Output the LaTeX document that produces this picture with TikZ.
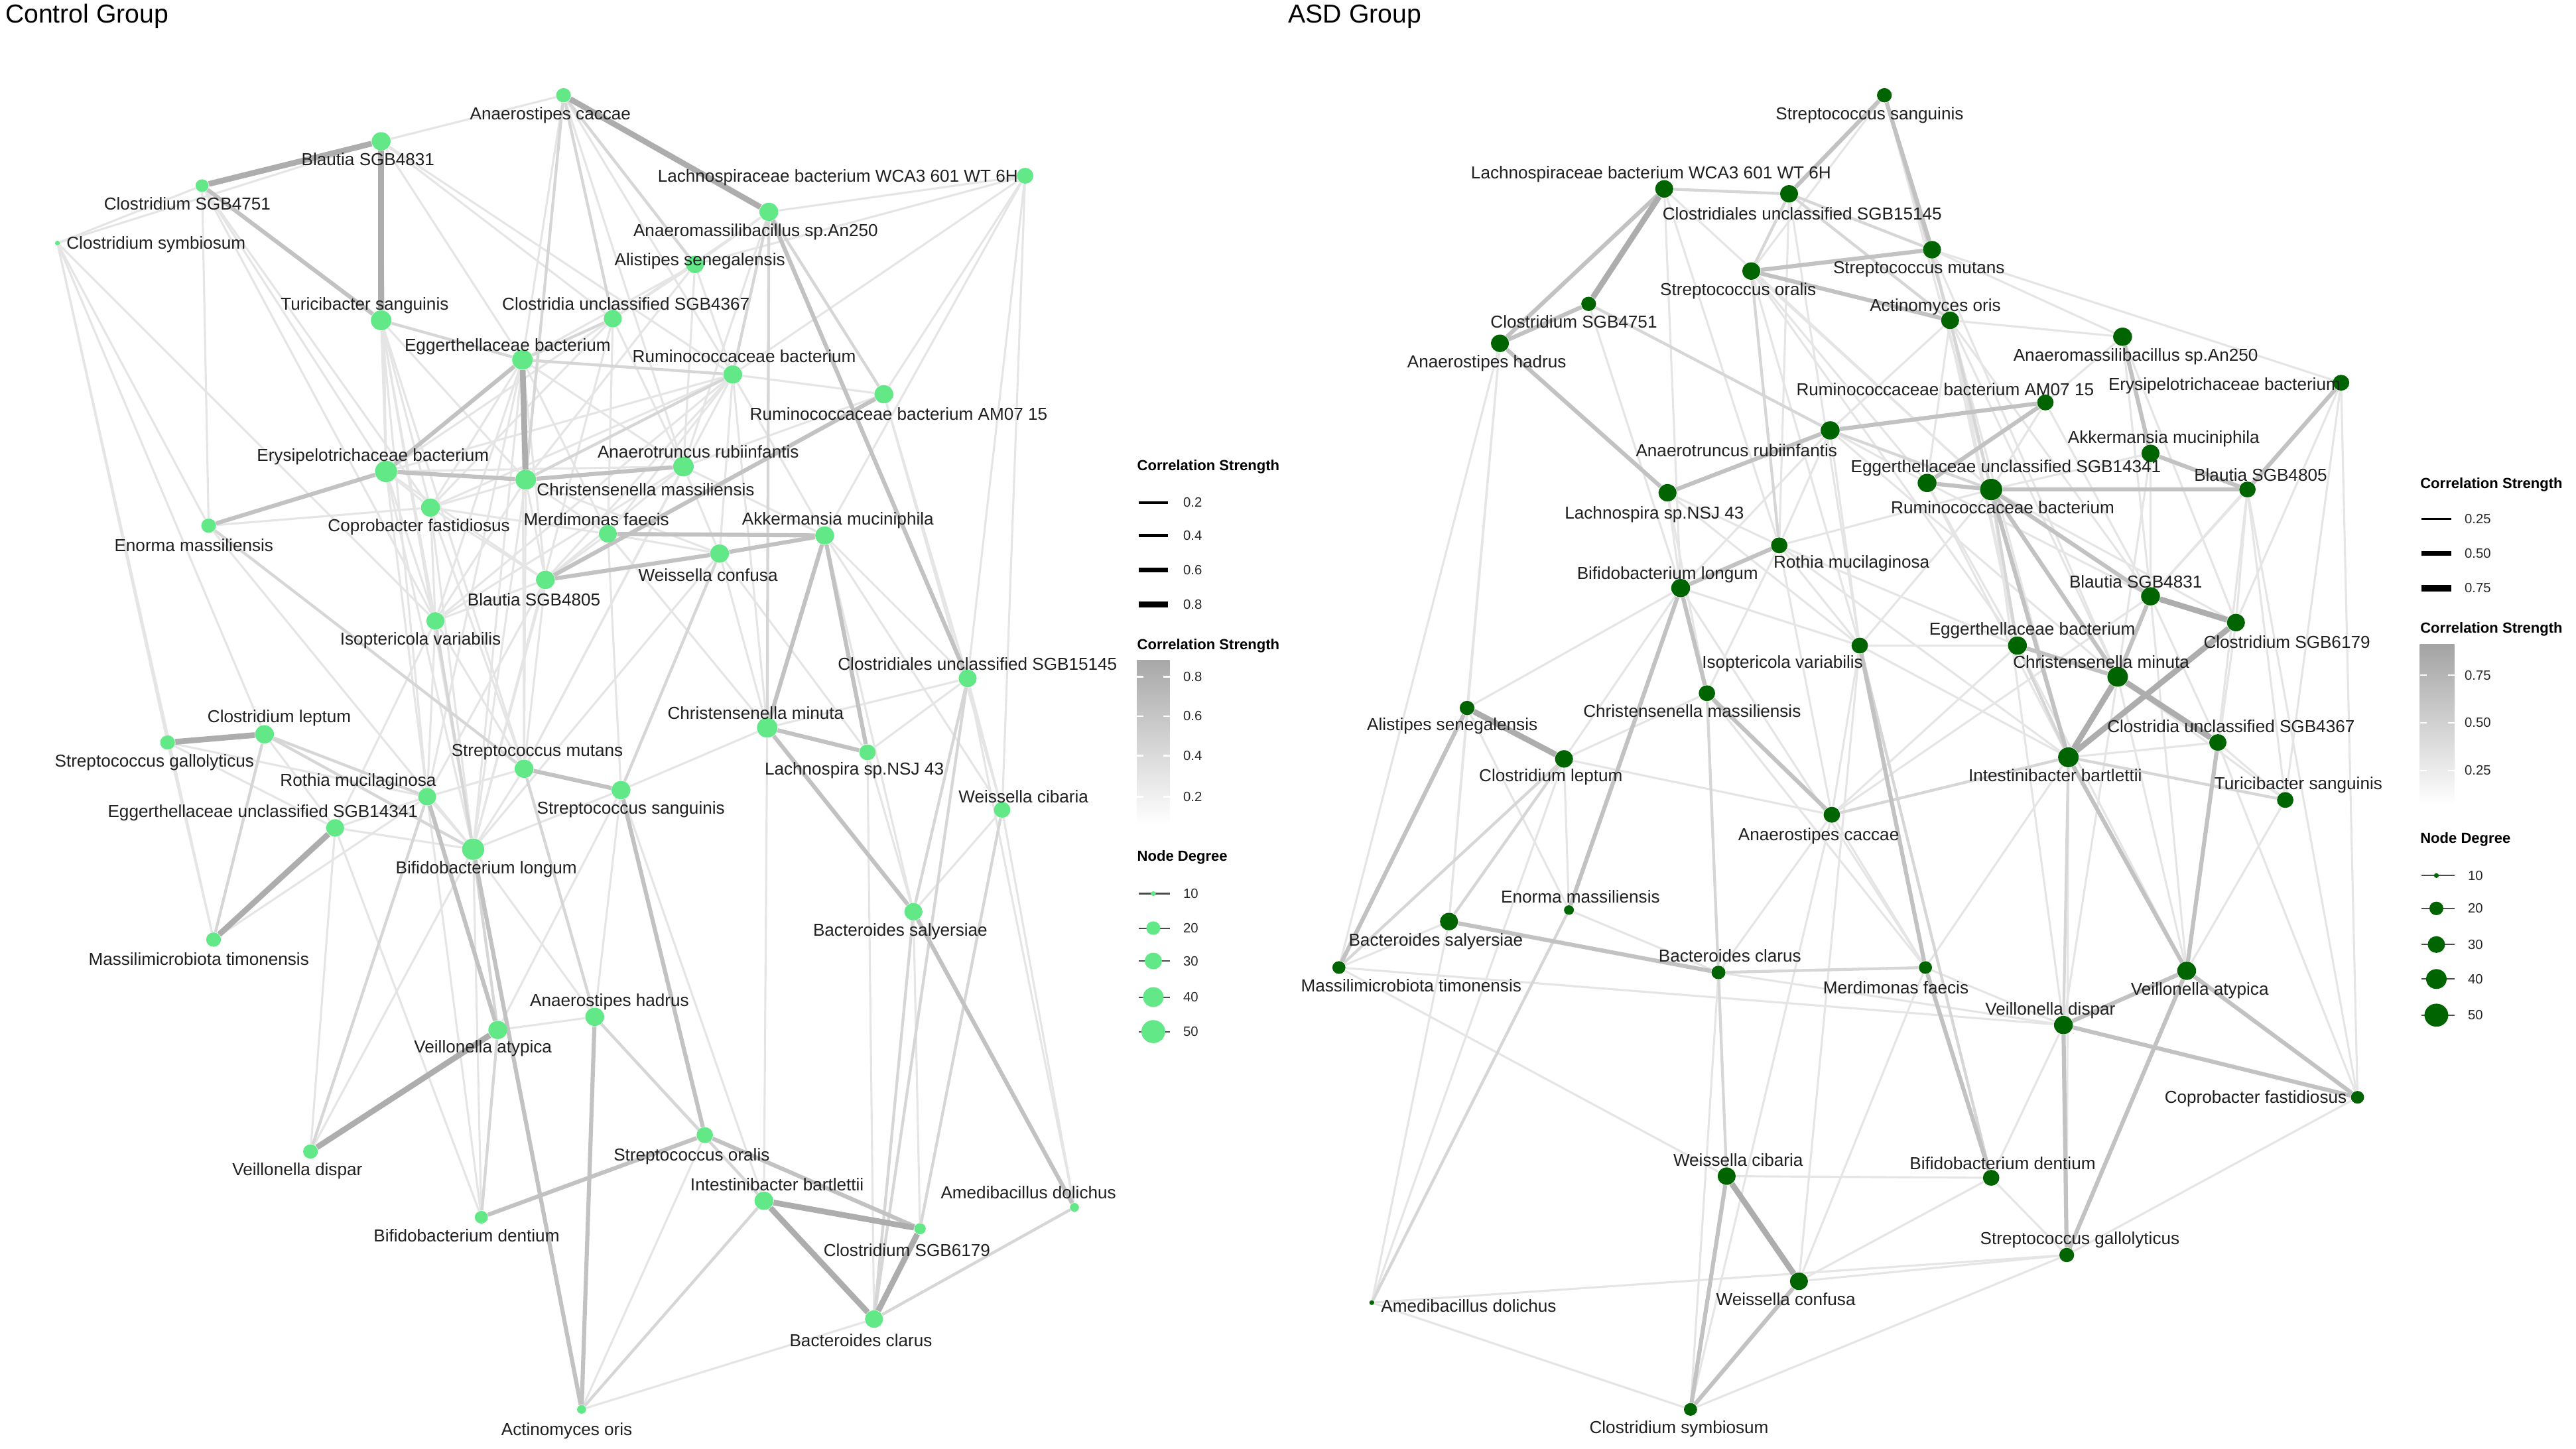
\documentclass[tikz,border=0pt]{standalone}
\usepackage{fontspec}
\setmainfont{Liberation Sans}
\usetikzlibrary{shapes.geometric,backgrounds}
\definecolor{cgreen}{RGB}{98,232,135}
\definecolor{dgreen}{RGB}{0,100,0}
\newcommand\mynode[6]{\node[#1=#4] (#2) at (#3) {};\node[lab] (#2L) at (#5) {#6};}
\begin{document}
\begin{tikzpicture}[x=0.3mm,y=-0.3mm,
 cn/.style={ellipse,fill=cgreen,inner sep=0pt,minimum width=#1*0.3mm,minimum height=#1*0.29mm},
 an/.style={ellipse,fill=dgreen,inner sep=0pt,minimum width=#1*0.3mm,minimum height=#1*0.29mm},
 lab/.style={font=\fontsize{9}{10}\selectfont,text=black!88,inner sep=0pt},
 ttl/.style={font=\fontsize{13.5}{15}\selectfont,anchor=west,inner sep=0pt},
 lgt/.style={font=\bfseries\fontsize{7.6}{9}\selectfont,anchor=west,inner sep=0pt},
 lgn/.style={font=\fontsize{7}{8}\selectfont,anchor=west,inner sep=0pt,text=black!85},
 e1/.style={draw=black!10,line width=0.38mm},
 e2/.style={draw=black!16,line width=0.52mm},
 e3/.style={draw=black!24,line width=0.75mm},
 e4/.style={draw=black!32,line width=1.05mm},
 kl/.style={draw=black!70,line width=0.25mm}]
\path[use as bounding box] (0,0) rectangle (1568,882);
\node[ttl] (t1) at (3,10) {Control Group};
\node[ttl] (t2) at (784,10) {ASD Group};
% ---------------- Control group nodes
\mynode{cn}{cAcac}{343,58}{9}{335,70}{Anaerostipes caccae}
\mynode{cn}{cB31}{232,86}{11.5}{224,97}{Blautia SGB4831}
\mynode{cn}{cC51}{123,113}{8}{114,124}{Clostridium SGB4751}
\mynode{cn}{cCsym}{35,148}{3}{95,149}{Clostridium symbiosum}
\mynode{cn}{cLach}{624,107}{10}{510,108}{Lachnospiraceae bacterium WCA3 601 WT 6H}
\mynode{cn}{cAmas}{468,129}{11.5}{460,141}{Anaeromassilibacillus sp.An250}
\mynode{cn}{cAli}{423,161}{11}{426,159}{Alistipes senegalensis}
\mynode{cn}{cC67}{373,194}{11}{381,185}{Clostridia unclassified SGB4367}
\mynode{cn}{cTur}{232,195}{12.5}{222,186}{Turicibacter sanguinis}
\mynode{cn}{cEgb}{318,219}{12.5}{309,211}{Eggerthellaceae bacterium}
\mynode{cn}{cRum}{446,228}{11.5}{453,217}{Ruminococcaceae bacterium}
\mynode{cn}{cRAM}{538,240}{11.5}{547,252}{Ruminococcaceae bacterium AM07 15}
\mynode{cn}{cEry}{235,287}{13.5}{227,278}{Erysipelotrichaceae bacterium}
\mynode{cn}{cCmas}{320,292}{12.5}{393,298}{Christensenella massiliensis}
\mynode{cn}{cAtr}{416,284}{12.5}{425,275}{Anaerotruncus rubiinfantis}
\mynode{cn}{cCop}{262,309}{11.5}{255,321}{Coprobacter fastidiosus}
\mynode{cn}{cMer}{370,325}{11}{363,316}{Merdimonas faecis}
\mynode{cn}{cAkk}{502,326}{11.5}{510,317}{Akkermansia muciniphila}
\mynode{cn}{cWcon}{438,337}{11.5}{431,350}{Weissella confusa}
\mynode{cn}{cEno}{127,320}{9}{118,332}{Enorma massiliensis}
\mynode{cn}{cB05}{332,353}{11.5}{325,365}{Blautia SGB4805}
\mynode{cn}{cIso}{265,378}{11}{256,390}{Isoptericola variabilis}
\mynode{cn}{cC145}{589,413}{11}{595,404}{Clostridiales unclassified SGB15145}
\mynode{cn}{cClep}{161,447}{11.5}{170,437}{Clostridium leptum}
\mynode{cn}{cSgal}{102,452}{9}{94,464}{Streptococcus gallolyticus}
\mynode{cn}{cCmin}{467,443}{12.5}{460,434}{Christensenella minuta}
\mynode{cn}{cLnsj}{528,458}{10}{520,469}{Lachnospira sp.NSJ 43}
\mynode{cn}{cSmut}{319,468}{11.5}{327,458}{Streptococcus mutans}
\mynode{cn}{cRoth}{260,485}{11}{218,476}{Rothia mucilaginosa}
\mynode{cn}{cSsan}{378,481}{11.5}{384,493}{Streptococcus sanguinis}
\mynode{cn}{cEgu}{204,504}{11}{160,495}{Eggerthellaceae unclassified SGB14341}
\mynode{cn}{cBlon}{288,517}{13.5}{296,529}{Bifidobacterium longum}
\mynode{cn}{cWcib}{610,493}{10}{623,485}{Weissella cibaria}
\mynode{cn}{cBsal}{556,555}{11}{548,567}{Bacteroides salyersiae}
\mynode{cn}{cMass}{130,572}{9}{121,584}{Massilimicrobiota timonensis}
\mynode{cn}{cAhad}{362,619}{11.5}{371,610}{Anaerostipes hadrus}
\mynode{cn}{cVaty}{303,627}{11.5}{294,638}{Veillonella atypica}
\mynode{cn}{cVdis}{189,701}{9}{181,713}{Veillonella dispar}
\mynode{cn}{cSora}{429,691}{10}{421,704}{Streptococcus oralis}
\mynode{cn}{cInt}{465,731}{11.5}{473,721}{Intestinibacter bartlettii}
\mynode{cn}{cAmed}{654,735}{5.5}{626,726}{Amedibacillus dolichus}
\mynode{cn}{cC6179}{560,748}{7}{552,761}{Clostridium SGB6179}
\mynode{cn}{cBden}{293,741}{8}{284,752}{Bifidobacterium dentium}
\mynode{cn}{cBcla}{532,803}{11}{524,816}{Bacteroides clarus}
\mynode{cn}{cAor}{354,858}{5.5}{345,871}{Actinomyces oris}
% ---------------- ASD group nodes
\mynode{an}{aSsan}{1147,58}{9}{1138,70}{Streptococcus sanguinis}
\mynode{an}{aLach}{1013,115}{11}{1005,106}{Lachnospiraceae bacterium WCA3 601 WT 6H}
\mynode{an}{aC145}{1089,118}{11}{1097,130}{Clostridiales unclassified SGB15145}
\mynode{an}{aSmut}{1176,152}{11}{1168,164}{Streptococcus mutans}
\mynode{an}{aSora}{1066,165}{11}{1058,177}{Streptococcus oralis}
\mynode{an}{aAor}{1187,195}{11}{1178,187}{Actinomyces oris}
\mynode{an}{aC51}{967,185}{9}{958,196}{Clostridium SGB4751}
\mynode{an}{aAhad}{913,209}{11}{905,221}{Anaerostipes hadrus}
\mynode{an}{aAmas}{1292,205}{11.5}{1300,217}{Anaeromassilibacillus sp.An250}
\mynode{an}{aEry}{1425,233}{10}{1354,235}{Erysipelotrichaceae bacterium}
\mynode{an}{aRAM}{1245,245}{10}{1184,237}{Ruminococcaceae bacterium AM07 15}
\mynode{an}{aAtr}{1114,262}{11.5}{1057,274}{Anaerotruncus rubiinfantis}
\mynode{an}{aAkk}{1309,276}{11}{1317,267}{Akkermansia muciniphila}
\mynode{an}{aEgu}{1173,294}{11.5}{1221,285}{Eggerthellaceae unclassified SGB14341}
\mynode{an}{aRum}{1212,298}{13.5}{1219,309}{Ruminococcaceae bacterium}
\mynode{an}{aB05}{1368,298}{10}{1376,289}{Blautia SGB4805}
\mynode{an}{aLnsj}{1015,300}{11}{1007,313}{Lachnospira sp.NSJ 43}
\mynode{an}{aRoth}{1083,332}{10}{1127,343}{Rothia mucilaginosa}
\mynode{an}{aBlon}{1023,358}{11.5}{1015,350}{Bifidobacterium longum}
\mynode{an}{aB31}{1309,363}{11.5}{1300,354}{Blautia SGB4831}
\mynode{an}{aC6179}{1361,379}{11}{1392,391}{Clostridium SGB6179}
\mynode{an}{aIso}{1132,393}{10}{1085,404}{Isoptericola variabilis}
\mynode{an}{aEgb}{1228,393}{11.5}{1237,384}{Eggerthellaceae bacterium}
\mynode{an}{aCmin}{1289,412}{12.5}{1279,403}{Christensenella minuta}
\mynode{an}{aCmas}{1039,422}{10}{1030,433}{Christensenella massiliensis}
\mynode{an}{aAli}{893,431}{9}{884,442}{Alistipes senegalensis}
\mynode{an}{aC67}{1350,452}{10.5}{1358,442}{Clostridia unclassified SGB4367}
\mynode{an}{aClep}{952,462}{11}{944,473}{Clostridium leptum}
\mynode{an}{aInt}{1259,461}{12.5}{1251,472}{Intestinibacter bartlettii}
\mynode{an}{aTur}{1391,487}{10}{1399,478}{Turicibacter sanguinis}
\mynode{an}{aAcac}{1115,496}{10}{1107,509}{Anaerostipes caccae}
\mynode{an}{aEno}{955,554}{6}{962,546}{Enorma massiliensis}
\mynode{an}{aBsal}{882,561}{11}{874,573}{Bacteroides salyersiae}
\mynode{an}{aMass}{815,589}{8}{859,600}{Massilimicrobiota timonensis}
\mynode{an}{aBcla}{1046,592}{8.5}{1053,582}{Bacteroides clarus}
\mynode{an}{aMer}{1172,589}{8}{1154,601}{Merdimonas faecis}
\mynode{an}{aVdis}{1256,624}{11.5}{1248,615}{Veillonella dispar}
\mynode{an}{aVaty}{1331,591}{11.5}{1339,603}{Veillonella atypica}
\mynode{an}{aCop}{1435,668}{8}{1373,669}{Coprobacter fastidiosus}
\mynode{an}{aWcib}{1051,716}{11}{1058,706}{Weissella cibaria}
\mynode{an}{aBden}{1212,717}{10}{1219,708}{Bifidobacterium dentium}
\mynode{an}{aSgal}{1258,764}{9}{1266,755}{Streptococcus gallolyticus}
\mynode{an}{aWcon}{1095,780}{11}{1087,791}{Weissella confusa}
\mynode{an}{aAmed}{835,793}{3}{894,795}{Amedibacillus dolichus}
\mynode{an}{aCsym}{1029,858}{8}{1022,870}{Clostridium symbiosum}
% ---------------- edges
\begin{pgfonlayer}{background}
% control light
\foreach \a/\b in {cCsym/cC51,cCsym/cB31,cCsym/cSgal,cCsym/cMass,cCsym/cIso,cCsym/cEno,cCsym/cClep,cC51/cEno,cC51/cIso,cC51/cCop,cC51/cEry,cB31/cAcac,cB31/cEgb,cB31/cC67,cB31/cRum,cB31/cEry,cAcac/cRum,cAcac/cEgb,cTur/cCop,cTur/cBlon,cTur/cCmas,cTur/cIso,cTur/cSmut,cLach/cRAM,cLach/cAmas,cLach/cC145,cLach/cAli,cLach/cRum,cLach/cWcib,cLach/cAkk,cRAM/cRum,cRAM/cWcib,cRAM/cC145,cRAM/cAtr,cWcib/cBsal,cBsal/cC6179,cAmed/cC145,cAmed/cWcib,cC145/cWcib,cC145/cLnsj,cC145/cAkk,cC145/cCmin,cEgb/cAtr,cEgb/cMer,cEgb/cB05,cEgb/cIso,cEgb/cCop,cRum/cAli,cRum/cEry,cRum/cMer,cRum/cB05,cRum/cAkk,cRum/cWcon,cAli/cC67,cAli/cCmas,cAli/cEgb,cC67/cEry,cC67/cCop,cC67/cAtr,cEry/cCop,cEry/cIso,cEry/cAtr,cEry/cB05,cEry/cBlon,cEry/cRoth,cCmas/cMer,cCmas/cB05,cCmas/cWcon,cCmas/cCop,cCop/cB05,cCop/cMer,cCop/cIso,cMer/cB05,cMer/cWcon,cAtr/cWcon,cAtr/cAkk,cAtr/cB05,cIso/cB05,cIso/cRoth,cIso/cEgu,cIso/cSmut,cB05/cSmut,cB05/cBlon,cSmut/cBlon,cSmut/cRoth,cRoth/cBlon,cRoth/cEgu,cBlon/cEgu,cBlon/cSsan,cSsan/cAhad,cSsan/cWcon,cCmin/cWcon,cCmin/cMer,cCmin/cRum,cCmin/cSsan,cWcon/cLnsj,cAkk/cBsal,cLnsj/cBsal,cEgu/cClep,cEgu/cSgal,cBden/cEgu,cBden/cBlon,cBden/cRoth,cVdis/cEgu,cVdis/cBlon,cVaty/cAhad,cVaty/cSsan,cAhad/cSora,cAhad/cBlon,cAor/cBcla,cAor/cSora,cMass/cRoth,cMass/cSgal,cEno/cCop,cEno/cBlon,cSgal/cRoth,cInt/cSsan,cInt/cCmin,cBcla/cLnsj,cBcla/cAmed,cEgb/cSmut,cEgb/cRoth,cRum/cSmut,cRum/cCop,cAtr/cIso,cAkk/cWcib,cC67/cBlon,cEgb/cBlon,cCmas/cSmut,cAmas/cAtr,cAmas/cC67,cAmas/cAli,cAcac/cAtr,cTur/cRoth,cTur/cEry,cC67/cMer,cAli/cAtr,cRum/cIso,cCmas/cIso,cCmas/cBlon,cAtr/cSmut,cMer/cSsan,cB05/cRoth,cCop/cBlon,cCop/cSmut,cWcon/cBlon}
 \draw[e1] (\a)--(\b);
\foreach \a/\b in {cClep/cMass,cClep/cRoth,cClep/cBlon,cVdis/cRoth,cBden/cVaty,cAhad/cInt,cAhad/cSmut,cInt/cAor,cC145/cBsal,cC145/cBcla,cWcib/cC6179,cBsal/cBcla,cAmed/cBcla,cAcac/cAli,cAcac/cC67,cAcac/cCmas,cAmas/cRum,cAmas/cCmin,cRAM/cAmas,cEno/cSmut,cTur/cEgb,cEgb/cRum,cEgb/cC67,cCmas/cRum,cBlon/cVaty,cSsan/cWcon,cIso/cBlon}
 \draw[e2] (\a)--(\b);
\foreach \a/\b in {cC51/cTur,cEgb/cEry,cEry/cCmas,cEry/cEno,cCmin/cLnsj,cCmin/cBsal,cAkk/cCmin,cAkk/cLnsj,cSmut/cSsan,cSsan/cSora,cRoth/cVaty,cBlon/cAor,cAhad/cAor,cSora/cC6179,cSora/cBden,cBsal/cAmed,cWcon/cB05,cMer/cAkk,cRAM/cB05,cCmas/cAtr,cAmas/cC145,cWcon/cAkk}
 \draw[e3] (\a)--(\b);
\foreach \a/\b in {cB31/cC51,cB31/cTur,cAcac/cAmas,cEgb/cCmas,cClep/cSgal,cEgu/cMass,cVaty/cVdis,cInt/cC6179,cInt/cBcla,cBcla/cC6179}
 \draw[e4] (\a)--(\b);
% ASD light
\foreach \a/\b in {aLach/aBlon,aC51/aBlon,aAhad/aAli,aAhad/aBsal,aAhad/aMass,aSora/aIso,aSora/aEgu,aSora/aRum,aSmut/aRum,aSmut/aEgb,aAor/aAtr,aAor/aEgu,aAor/aB31,aAor/aAmas,aSmut/aAmas,aSmut/aEry,aRAM/aRum,aRAM/aAmas,aRAM/aB31,aAtr/aEgu,aAtr/aBlon,aAtr/aRoth,aRoth/aIso,aRoth/aCmas,aRoth/aEgb,aIso/aInt,aIso/aRum,aEgb/aVaty,aCmin/aVaty,aRum/aVdis,aB05/aC6179,aB05/aB31,aB05/aC67,aB05/aTur,aEry/aC6179,aEry/aTur,aEry/aCop,aAkk/aB31,aAkk/aCmin,aAmas/aB31,aLnsj/aBlon,aLnsj/aRoth,aLnsj/aCmas,aBlon/aClep,aBlon/aIso,aBlon/aAli,aCmas/aClep,aCmas/aMer,aClep/aEno,aClep/aAcac,aAcac/aMer,aAcac/aEgb,aMer/aVdis,aMer/aInt,aBcla/aVdis,aAli/aBsal,aBsal/aAmed,aAcac/aB31,aC67/aTur,aTur/aVaty,aCop/aSgal,aCop/aC67,aCop/aB05,aCsym/aSgal,aCsym/aAmed,aAmed/aSgal,aWcon/aSgal,aWcon/aBden,aBcla/aAcac,aBcla/aEno,aMer/aBlon,aBden/aSgal,aBden/aVdis,aVdis/aCmin,aMass/aVdis,aLach/aRoth,aLach/aRum,aC145/aRoth,aC145/aIso,aSsan/aRum,aSsan/aSora,aAor/aCmin,aAor/aInt,aSmut/aCmin,aAtr/aCmin,aEgu/aInt,aEgu/aB31,aRum/aAkk,aRum/aC6179,aLnsj/aIso,aRoth/aAcac,aIso/aAcac,aIso/aWcon,aAcac/aCsym,aMass/aBsal,aAli/aEno,aBcla/aCsym,aMer/aWcon,aWcib/aBden,aInt/aSgal,aC6179/aVaty,aB31/aVaty,aAmas/aC6179,aEry/aB31,aWcib/aMass,aClep/aAmed,aCmas/aBcla,aAtr/aIso,aEgu/aEgb,aSora/aEgb,aAor/aEgb,aRoth/aRum,aRoth/aInt,aIso/aEgb,aCmin/aTur,aInt/aC67,aB31/aC67}
 \draw[e1] (\a)--(\b);
\foreach \a/\b in {aLach/aC145,aC145/aSora,aC145/aSmut,aC51/aAtr,aEno/aAmed,aClep/aMass,aClep/aBsal,aAcac/aInt,aInt/aTur,aCop/aVaty,aBcla/aWcib,aVdis/aInt,aSora/aRoth,aAor/aRum,aAtr/aRum,aEgb/aRum,aEgb/aInt,aC145/aAor,aBcla/aMer,aSsan/aAor,aBcla/aCmas,aIso/aBden}
 \draw[e2] (\a)--(\b);
\foreach \a/\b in {aLach/aAhad,aC51/aAhad,aSsan/aC145,aSsan/aSmut,aSora/aSmut,aSora/aAor,aAtr/aLnsj,aAhad/aLnsj,aRAM/aEgu,aEgu/aRum,aRum/aB05,aAkk/aB05,aEry/aB05,aAmas/aAkk,aB31/aCmin,aEgb/aCmin,aBsal/aBcla,aBlon/aEno,aWcib/aCsym,aWcon/aCsym,aVdis/aVaty,aVdis/aSgal,aVaty/aSgal,aMer/aBden,aC67/aVaty,aInt/aVaty,aAli/aMass,aVdis/aCop,aBlon/aCmas,aRoth/aBlon,aIso/aMer,aCmas/aAcac,aRum/aB31,aRum/aInt,aRum/aCmin,aAtr/aRAM,aVaty/aCop}
 \draw[e3] (\a)--(\b);
\foreach \a/\b in {aLach/aC51,aAli/aClep,aWcib/aWcon,aB31/aC6179,aCmin/aC67,aCmin/aInt,aC6179/aInt}
 \draw[e4] (\a)--(\b);
\end{pgfonlayer}
% ---------------- legend: control
\node[lgt] (lc1) at (692,284) {Correlation Strength};
\foreach \y/\w/\t [count=\i] in {306/0.4/0.2,326/0.6/0.4,347/0.85/0.6,368/1.15/0.8}{
 \coordinate (lcA\i) at (693,\y); \coordinate (lcB\i) at (711,\y);
 \draw[line width=\w mm] (lcA\i)--(lcB\i);
 \node[lgn] (lcT\i) at (720,\y) {\t};}
\node[lgt] (lc2) at (692,393) {Correlation Strength};
\shade[top color=black!34,bottom color=white] (692,402) rectangle (712,502);
\foreach \y/\t [count=\i] in {412/0.8,436/0.6,460/0.4,485/0.2}{
 \draw[white,line width=0.3mm] (692,\y)--(696,\y) (708,\y)--(712,\y);
 \node[lgn] (lcG\i) at (720,\y) {\t};}
\node[lgt] (lc3) at (692,522) {Node Degree};
\foreach \y/\s/\t [count=\i] in {544/3/10,565/8.5/20,585/10.5/30,607/12.5/40,628/14.5/50}{
 \coordinate (lcD\i) at (693,\y); \coordinate (lcE\i) at (712,\y);
 \draw[kl] (lcD\i)--(lcE\i);
 \node[cn=\s] (lcK\i) at (702,\y) {};
 \node[lgn] (lcN\i) at (720,\y) {\t};}
% ---------------- legend: ASD
\node[lgt] (la1) at (1473,295) {Correlation Strength};
\foreach \y/\w/\t [count=\i] in {316/0.4/0.25,337/0.8/0.50,358/1.15/0.75}{
 \coordinate (laA\i) at (1474,\y); \coordinate (laB\i) at (1492,\y);
 \draw[line width=\w mm] (laA\i)--(laB\i);
 \node[lgn] (laT\i) at (1500,\y) {\t};}
\node[lgt] (la2) at (1473,383) {Correlation Strength};
\shade[top color=black!36,bottom color=white] (1473,392) rectangle (1494,490);
\foreach \y/\t [count=\i] in {411/0.75,440/0.50,469/0.25}{
 \draw[white,line width=0.3mm] (1473,\y)--(1477,\y) (1490,\y)--(1494,\y);
 \node[lgn] (laG\i) at (1500,\y) {\t};}
\node[lgt] (la3) at (1473,511) {Node Degree};
\foreach \y/\s/\t [count=\i] in {533/3/10,553/8.5/20,575/10.5/30,596/12.5/40,618/14.5/50}{
 \coordinate (laD\i) at (1474,\y); \coordinate (laE\i) at (1494,\y);
 \draw[kl] (laD\i)--(laE\i);
 \node[an=\s] (laK\i) at (1483,\y) {};
 \node[lgn] (laN\i) at (1502,\y) {\t};}
\end{tikzpicture}
\end{document}
